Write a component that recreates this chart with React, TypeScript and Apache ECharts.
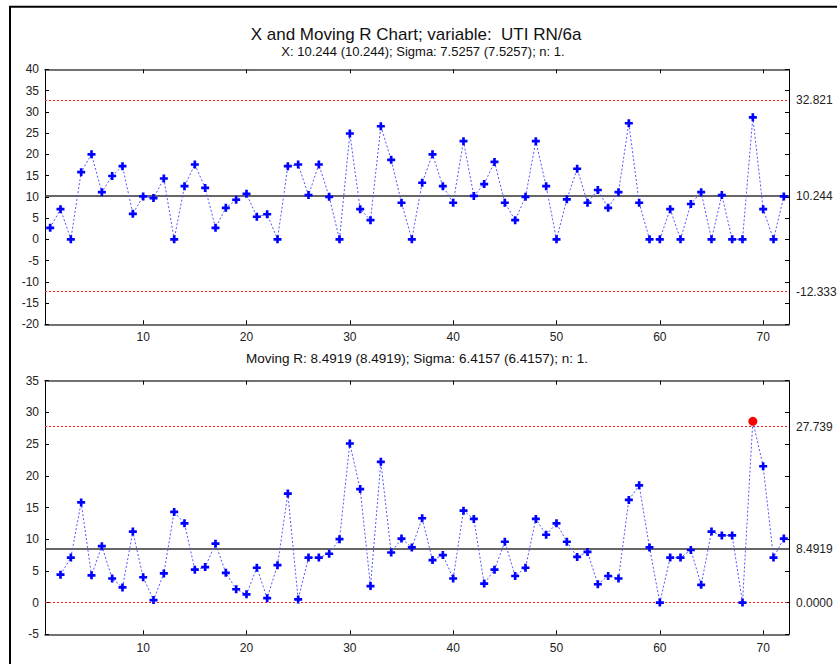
import React, { useEffect, useRef } from "react";
import * as echarts from "echarts";

const titleText = "X and Moving R Chart; variable:  UTI RN/6a";
const xSubtitle = "X: 10.244 (10.244); Sigma: 7.5257 (7.5257); n: 1.";
const mrSubtitle = "Moving R: 8.4919 (8.4919); Sigma: 6.4157 (6.4157); n: 1.";

// individual values, samples 1..72
const xValues = [
  2.7, 7.1, 0, 15.8, 20, 11.1, 14.9, 17.2, 6.0, 10.1,
  9.7, 14.3, 0, 12.5, 17.6, 12.1, 2.7, 7.4, 9.3, 10.7,
  5.3, 5.9, 0, 17.2, 17.6, 10.4, 17.6, 10.0, 0, 24.9,
  7.1, 4.5, 26.6, 18.7, 8.6, 0, 13.3, 20, 12.5, 8.6,
  23.1, 10.2, 13.0, 18.2, 8.6, 4.5, 10.0, 23.1, 12.5, 0,
  9.4, 16.6, 8.6, 11.6, 7.4, 11.1, 27.3, 8.6, 0, 0,
  7.1, 0, 8.3, 11.1, 0, 10.4, 0, 0, 28.7, 7.1,
  0, 10.1,
];

// moving ranges, samples 2..72
const mrValues = [
  4.4, 7.1, 15.8, 4.3, 8.9, 3.8, 2.4, 11.2, 4.0,
  0.4, 4.6, 14.3, 12.5, 5.2, 5.6, 9.3, 4.7, 2.1, 1.3,
  5.5, 0.7, 5.9, 17.2, 0.5, 7.1, 7.1, 7.7, 10.0, 25.1,
  17.9, 2.6, 22.2, 7.9, 10.1, 8.7, 13.3, 6.7, 7.5, 3.8,
  14.5, 13.2, 3.0, 5.2, 9.6, 4.2, 5.5, 13.2, 10.7, 12.5,
  9.6, 7.2, 8.0, 2.9, 4.2, 3.8, 16.2, 18.5, 8.7, 0,
  7.1, 7.1, 8.3, 2.8, 11.2, 10.6, 10.6, 0, 28.6, 21.5,
  7.1, 10.1,
];

const xLimitValues = [32.821, 10.244, -12.333];
const xLimitLabels = ["32.821", "10.244", "-12.333"];
const mrLimitValues = [27.739, 8.4919, 0];
const mrLimitLabels = ["27.739", "8.4919", "0.0000"];
const xTickValues = [10, 20, 30, 40, 50, 60, 70];

const FONT = '"Liberation Sans", Arial, Helvetica, sans-serif';
const PLUS = "path://M3,0L6,0L6,3L9,3L9,6L6,6L6,9L3,9L3,6L0,6L0,3L3,3Z";

function makeXAxes(gridIndex: number, labelMargin: number) {
  const base = {
    gridIndex,
    type: "value",
    min: 0.5,
    max: 72.5,
    splitLine: { show: false },
    axisLine: { show: true, onZero: false, lineStyle: { color: "#444", width: 1.5 } },
    axisTick: { show: true, inside: true, length: 4, customValues: xTickValues, lineStyle: { color: "#000", width: 1 } },
  };
  return [
    {
      ...base,
      position: "bottom",
      axisLabel: { show: true, customValues: xTickValues, margin: labelMargin, fontSize: 12, color: "#222", fontFamily: FONT },
    },
    { ...base, position: "top", axisLabel: { show: false } },
  ];
}

function makeYAxes(gridIndex: number, min: number, max: number) {
  const base = {
    gridIndex,
    type: "value",
    min,
    max,
    interval: 5,
    splitLine: { show: false },
    axisLine: { show: true, onZero: false, lineStyle: { color: "#000", width: 1 } },
    axisTick: { show: true, inside: true, length: 4, lineStyle: { color: "#000", width: 1 } },
  };
  return [
    { ...base, position: "left", axisLabel: { show: true, margin: 6, fontSize: 12, color: "#222", fontFamily: FONT } },
    { ...base, position: "right", axisLabel: { show: false } },
  ];
}

function limitLines(values: number[], labels: string[]) {
  return values.map((v, i) => ({
    yAxis: v,
    lineStyle:
      i === 1
        ? { color: "#333", width: 1.6, type: "solid" }
        : { color: "#ff1a1a", width: 1, type: [2, 2] },
    label: {
      show: true,
      position: "end",
      distance: 7,
      formatter: labels[i],
      fontSize: 12,
      color: "#222",
      fontFamily: FONT,
    },
  }));
}

export default function App() {
  const ref = useRef<HTMLDivElement>(null);
  useEffect(() => {
    if (!ref.current) return;
    const chart = echarts.init(ref.current, null, { renderer: "svg" });
    const xAxesAll = [...makeXAxes(0, 7), ...makeXAxes(1, 8)];
    const yAxesAll = [...makeYAxes(0, -20, 40), ...makeYAxes(1, -5, 35)];
    const lineStyle = { color: "#5555ff", width: 1, type: [2, 2] };
    const option = {
      animation: false,
      backgroundColor: "#fff",
      grid: [
        { left: 45, top: 69.3, width: 744, height: 255 },
        { left: 45, top: 380.7, width: 744, height: 253.6 },
      ],
      xAxis: xAxesAll,
      yAxis: yAxesAll,
      graphic: [
        { type: "rect", shape: { x: 10, y: 6.7, width: 900, height: 700 }, style: { fill: "none", stroke: "#000", lineWidth: 2 }, silent: true },
        { type: "text", x: 416, y: 34, style: { text: titleText, fontSize: 17, fontFamily: FONT, fill: "#111", textAlign: "center", textVerticalAlign: "middle" } },
        { type: "text", x: 423, y: 51, style: { text: xSubtitle, fontSize: 13, fontFamily: FONT, fill: "#111", textAlign: "center", textVerticalAlign: "middle" } },
        { type: "text", x: 417, y: 358.8, style: { text: mrSubtitle, fontSize: 13.5, fontFamily: FONT, fill: "#111", textAlign: "center", textVerticalAlign: "middle" } },
      ],
      series: [
        {
          type: "line",
          xAxisIndex: 0,
          yAxisIndex: 0,
          data: [],
          z: 1,
          markLine: { symbol: ["none", "none"], silent: true, data: limitLines(xLimitValues, xLimitLabels) },
        },
        {
          type: "line",
          xAxisIndex: 2,
          yAxisIndex: 2,
          data: [],
          z: 1,
          markLine: { symbol: ["none", "none"], silent: true, data: limitLines(mrLimitValues, mrLimitLabels) },
        },
        {
          type: "line",
          xAxisIndex: 0,
          yAxisIndex: 0,
          z: 5,
          data: xValues.map((v, i) => [i + 1, v]),
          symbol: PLUS,
          symbolSize: 8,
          showAllSymbol: true,
          itemStyle: { color: "#0000ff" },
          lineStyle,
        },
        {
          type: "line",
          xAxisIndex: 2,
          yAxisIndex: 2,
          z: 5,
          data: mrValues.map((v, i) =>
            v > mrLimitValues[0]
              ? { value: [i + 2, v], symbol: "circle", symbolSize: 9, itemStyle: { color: "#ff0000" } }
              : [i + 2, v]
          ),
          symbol: PLUS,
          symbolSize: 8,
          showAllSymbol: true,
          itemStyle: { color: "#0000ff" },
          lineStyle,
        },
      ],
    };
    chart.setOption(option as any);
    return () => chart.dispose();
  }, []);
  return (
    <div
      ref={ref}
      style={{ position: "fixed", left: 0, top: 0, width: 837, height: 664, background: "#fff" }}
    />
  );
}
